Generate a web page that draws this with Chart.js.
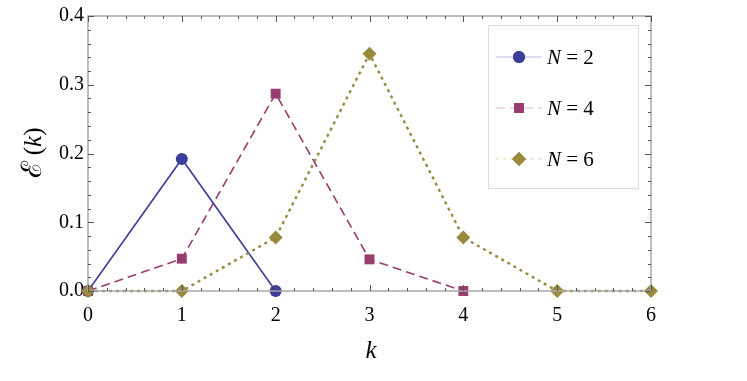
<!DOCTYPE html>
<html lang="en">

<head>
    <meta charset="UTF-8" />
    <title>E(k) vs k</title>
    <script src="https://cdn.jsdelivr.net/npm/chart.js"></script>
    <style>
        html, body { margin: 0; padding: 0; background: #fff; }
        canvas { display: block; }
    </style>
</head>

<body>
    <canvas id="chart" width="747" height="381"></canvas>

    <script>
        const kValues = [0, 1, 2, 3, 4, 5, 6];
        const n2Values = [0, 0.192, 0];
        const n4Values = [0, 0.047, 0.287, 0.046, 0];
        const n6Values = [0, 0, 0.078, 0.345, 0.078, 0, 0];
        const seriesNames = ['N = 2', 'N = 4', 'N = 6'];
        const yTicks = [0, 0.1, 0.2, 0.3, 0.4];

        const serif = "'Liberation Serif', 'Times New Roman', serif";

        function toPoints(values) {
            return values.map((v, i) => ({ x: kValues[i], y: v }));
        }

        // ticks pointing inward on all four sides, mathematica style frame
        const framePlugin = {
            id: 'frame',
            afterDatasetsDraw(chart) {
                const ctx = chart.ctx;
                const a = chart.chartArea;
                const xs = chart.scales.x;
                const ys = chart.scales.y;
                ctx.save();
                ctx.strokeStyle = '#a8a8a8';
                ctx.lineWidth = 1.5;
                ctx.strokeRect(a.left, a.top, a.right - a.left, a.bottom - a.top);

                ctx.strokeStyle = '#555';
                ctx.lineWidth = 1;
                for (let i = 0; i <= 30; i++) {
                    const v = i * 0.2;
                    const len = i % 5 === 0 ? 6 : 3;
                    const px = Math.round(xs.getPixelForValue(v)) + 0.5;
                    ctx.beginPath();
                    ctx.moveTo(px, a.bottom);
                    ctx.lineTo(px, a.bottom - len);
                    ctx.moveTo(px, a.top);
                    ctx.lineTo(px, a.top + len);
                    ctx.stroke();
                }
                for (let i = 0; i <= 20; i++) {
                    const v = i * 0.02;
                    const len = i % 5 === 0 ? 6 : 3;
                    const py = Math.round(ys.getPixelForValue(v)) + 0.5;
                    ctx.beginPath();
                    ctx.moveTo(a.left, py);
                    ctx.lineTo(a.left + len, py);
                    ctx.moveTo(a.right, py);
                    ctx.lineTo(a.right - len, py);
                    ctx.stroke();
                }
                ctx.restore();
            },
            afterDraw(chart) {
                const ctx = chart.ctx;
                ctx.save();
                ctx.fillStyle = '#000';

                // x title
                ctx.font = 'italic 25px ' + serif;
                ctx.textAlign = 'center';
                ctx.textBaseline = 'middle';
                ctx.fillText('k', 371, 351);

                // y title
                ctx.translate(34, 153);
                ctx.rotate(-Math.PI / 2);
                ctx.textAlign = 'left';
                const parts = [['ℰ', "28px 'DejaVu Serif', serif"], [' (', '25px ' + serif], ['k', 'italic 25px ' + serif], [')', '25px ' + serif]];
                let total = 0;
                parts.forEach(p => { ctx.font = p[1]; total += ctx.measureText(p[0]).width; });
                let x = -total / 2;
                parts.forEach(p => { ctx.font = p[1]; ctx.fillText(p[0], x, 0); x += ctx.measureText(p[0]).width; });
                ctx.restore();

                // legend box
                ctx.save();
                ctx.strokeStyle = '#dcdcdc';
                ctx.lineWidth = 1;
                ctx.fillStyle = '#fff';
                ctx.fillRect(488.5, 25.5, 150, 163);
                ctx.strokeRect(488.5, 25.5, 150, 163);
                const rowY = [57, 108, 159];
                chart.data.datasets.forEach((ds, i) => {
                    const y = rowY[i];
                    ctx.save();
                    ctx.globalAlpha = 0.35;
                    ctx.strokeStyle = ds.borderColor;
                    ctx.lineWidth = 1;
                    ctx.setLineDash(ds.borderDash || []);
                    ctx.beginPath();
                    ctx.moveTo(496, y);
                    ctx.lineTo(542, y);
                    ctx.stroke();
                    ctx.restore();
                    ctx.fillStyle = ds.pointBackgroundColor;
                    ctx.beginPath();
                    Chart.helpers.drawPoint(ctx, {
                        pointStyle: ds.pointStyle,
                        radius: ds.pointRadius,
                        borderWidth: 0
                    }, 519, y);
                    ctx.fill();
                    ctx.fillStyle = '#000';
                    ctx.textBaseline = 'middle';
                    ctx.textAlign = 'left';
                    ctx.font = 'italic 21px ' + serif;
                    ctx.fillText('N', 547, y + 1);
                    const w = ctx.measureText('N').width;
                    ctx.font = '21px ' + serif;
                    ctx.fillText(seriesNames[i].slice(1), 547 + w, y + 1);
                });
                ctx.restore();
            }
        };

        const ctx = document.getElementById('chart').getContext('2d');
        const chart = new Chart(ctx, {
            type: 'scatter',
            data: {
                datasets: [
                    {
                        label: seriesNames[0],
                        data: toPoints(n2Values),
                        showLine: true,
                        borderColor: '#3d3d9b',
                        backgroundColor: '#3d3d9b',
                        pointBackgroundColor: '#3d3d9b',
                        borderWidth: 1.6,
                        pointStyle: 'circle',
                        pointRadius: 6,
                        pointBorderWidth: 0,
                        order: 2,
                        clip: false,
                    },
                    {
                        label: seriesNames[1],
                        data: toPoints(n4Values),
                        showLine: true,
                        borderColor: '#993d70',
                        backgroundColor: '#993d70',
                        pointBackgroundColor: '#993d70',
                        borderWidth: 1.6,
                        borderDash: [9, 5],
                        pointStyle: 'rect',
                        pointRadius: 7,
                        pointBorderWidth: 0,
                        order: 1,
                        clip: false,
                    },
                    {
                        label: seriesNames[2],
                        data: toPoints(n6Values),
                        showLine: true,
                        borderColor: '#998a3d',
                        backgroundColor: '#998a3d',
                        pointBackgroundColor: '#998a3d',
                        borderWidth: 2.4,
                        borderDash: [3, 4],
                        pointStyle: 'rectRot',
                        pointRadius: 7,
                        pointBorderWidth: 0,
                        order: 0,
                        clip: false,
                    },
                ],
            },
            options: {
                responsive: false,
                animation: false,
                layout: { padding: { top: 13, right: 96, left: 0, bottom: 0 } },
                plugins: {
                    legend: { display: false },
                    tooltip: { enabled: false },
                },
                scales: {
                    x: {
                        type: 'linear',
                        min: 0,
                        max: 6,
                        grid: { display: false },
                        border: { display: false },
                        ticks: {
                            stepSize: 1,
                            color: '#000',
                            padding: 5,
                            font: { family: serif, size: 20 },
                        },
                        afterFit: (scale) => { scale.height = 90; },
                    },
                    y: {
                        min: 0,
                        max: 0.4,
                        grid: { display: false, drawTicks: false },
                        border: { display: false },
                        afterBuildTicks: (scale) => {
                            scale.ticks = yTicks.map(v => ({ value: v }));
                        },
                        ticks: {
                            color: '#000',
                            padding: 4,
                            font: { family: serif, size: 20 },
                            callback: (v) => Number(v).toFixed(1),
                        },
                        afterFit: (scale) => { scale.width = 88; },
                    },
                },
            },
            plugins: [framePlugin],
        });
    </script>
</body>

</html>
